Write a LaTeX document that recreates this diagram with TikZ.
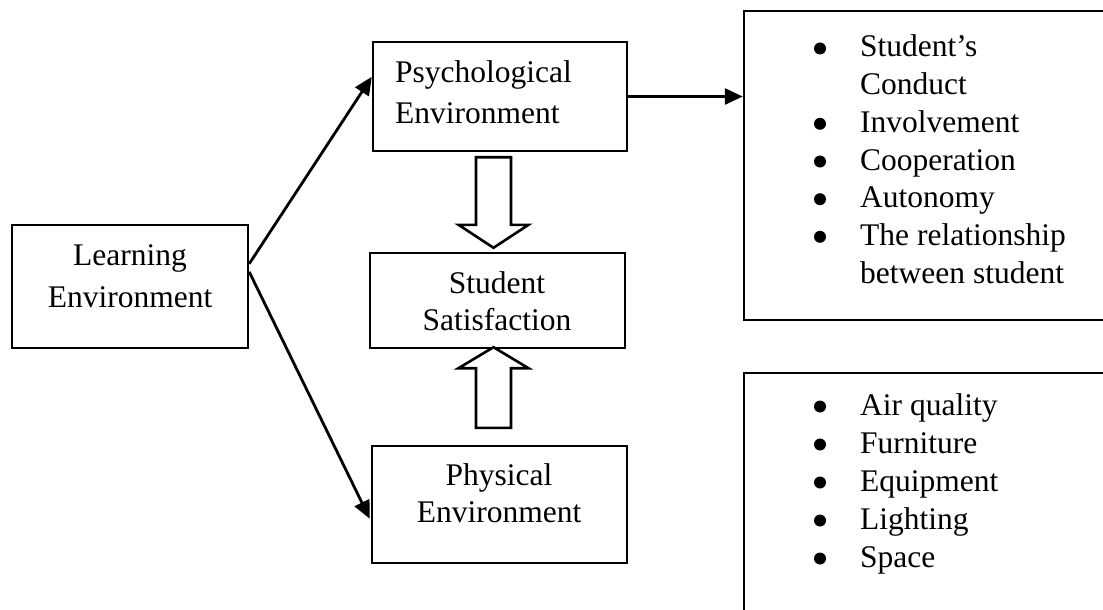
\documentclass[tikz,border=0pt]{standalone}
\usepackage{fontspec}
\setmainfont{Liberation Serif}
\usetikzlibrary{arrows.meta,calc}
\begin{document}
\begin{tikzpicture}[x=1pt,y=-1pt,
  box/.style={draw,line width=2.4pt,rectangle,inner sep=0pt},
  txt/.style={font=\fontsize{31.5}{38}\selectfont,inner sep=0pt,anchor=base},
  txtl/.style={txt,anchor=base west},
  conn/.style={line width=2.8pt,-{Triangle[length=18pt,width=16pt]}},
  hollow/.style={draw,line width=2.6pt,fill=white,line join=miter},
  bul/.style={circle,fill=black,inner sep=0pt,minimum size=12pt}]
\clip (0,0) rectangle (1103,610);
\fill[white] (0,0) rectangle (1103,610);
% boxes
\node[box,minimum width=236pt,minimum height=123pt] (learn) at (130,286.5) {};
\node[box,minimum width=254pt,minimum height=109pt] (psych) at (500,96.5) {};
\node[box,minimum width=255pt,minimum height=95pt] (sat) at (497.5,300.5) {};
\node[box,minimum width=255pt,minimum height=117pt] (phys) at (499.5,504.5) {};
\node[box,minimum width=380pt,minimum height=309pt] (list1) at (934,165.5) {};
\node[box,minimum width=380pt,minimum height=260pt] (list2) at (934,503) {};
% texts
\node[txt] (t1) at (130,265) {Learning};
\node[txt] (t2) at (130,307) {Environment};
\node[txtl] (t3) at (395,82) {Psychological};
\node[txtl] (t4) at (395,123) {Environment};
\node[txt] (t5) at (497,293) {Student};
\node[txt] (t6) at (497,330) {Satisfaction};
\node[txt] (t7) at (499,485) {Physical};
\node[txt] (t8) at (499,522) {Environment};
% list 1
\node[txtl] (a1) at (860,57) {Student’s};
\node[txtl] (a2) at (860,94.7) {Conduct};
\node[txtl] (a3) at (860,132.3) {Involvement};
\node[txtl] (a4) at (860,170) {Cooperation};
\node[txtl] (a5) at (860,207.7) {Autonomy};
\node[txtl] (a6) at (860,245.3) {The relationship};
\node[txtl] (a7) at (860,283) {between student};
\node[bul] (b1) at (820,48.5) {};
\node[bul] (b3) at (820,123.8) {};
\node[bul] (b4) at (820,161.5) {};
\node[bul] (b5) at (820,199.2) {};
\node[bul] (b6) at (820,236.8) {};
% list 2
\node[txtl] (c1) at (860,415) {Air quality};
\node[txtl] (c2) at (860,453) {Furniture};
\node[txtl] (c3) at (860,491) {Equipment};
\node[txtl] (c4) at (860,529) {Lighting};
\node[txtl] (c5) at (860,567) {Space};
\node[bul] (d1) at (820,406.5) {};
\node[bul] (d2) at (820,444.5) {};
\node[bul] (d3) at (820,482.5) {};
\node[bul] (d4) at (820,520.5) {};
\node[bul] (d5) at (820,558.5) {};
% connectors
\coordinate (ls1) at ($(learn.north east)+(0,40)$);
\coordinate (ls2) at ($(learn.north east)+(0,48)$);
\coordinate (pe1) at ($(psych.north west)+(0,36)$);
\coordinate (pe2) at ($(phys.north west)+(-1,74)$);
\draw[conn] (ls1) -- (pe1);
\draw[conn] (ls2) -- (pe2);
\draw[conn] (psych.east) -- (psych.east -| list1.west);
% hollow arrows
\coordinate (dtop) at ($(psych.south)+(-6.5,5)$);
\coordinate (dtip) at ($(sat.north)+(-4,-4)$);
\draw[hollow] ($(dtop)+(-17.5,0)$) -- ($(dtop)+(17.5,0)$) -- ($(dtip)+(17.5,-23)$)
  -- ($(dtip)+(35,-23)$) -- (dtip) -- ($(dtip)+(-35,-23)$) -- ($(dtip)+(-17.5,-23)$) -- cycle;
\coordinate (ubot) at ($(phys.north)+(-6,-17)$);
\coordinate (utip) at ($(sat.south)+(-4,-2)$);
\draw[hollow] ($(ubot)+(-17.5,0)$) -- ($(ubot)+(17.5,0)$) -- ($(utip)+(17.5,21)$)
  -- ($(utip)+(35,21)$) -- (utip) -- ($(utip)+(-35,21)$) -- ($(utip)+(-17.5,21)$) -- cycle;
\end{tikzpicture}
\end{document}
